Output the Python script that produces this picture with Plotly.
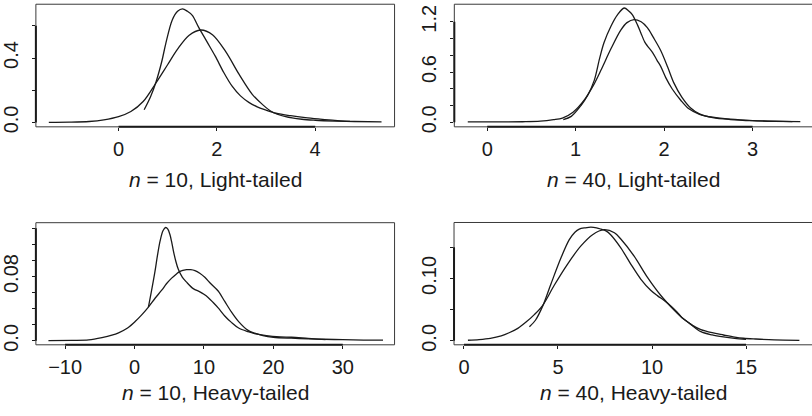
import plotly.graph_objects as go

# ---------------- data ----------------
# Panel 1: n = 10, Light-tailed
p1_smooth_x = [-1.42, -1.0, -0.6, -0.3, 0.0, 0.25, 0.5, 0.76, 1.0, 1.2, 1.43, 1.67, 1.91, 2.18, 2.45, 2.72, 2.92, 3.1, 3.4, 3.73, 4.0, 4.4, 4.8, 5.35]
p1_smooth_y = [0.001, 0.002, 0.006, 0.016, 0.036, 0.068, 0.13, 0.245, 0.36, 0.455, 0.54, 0.574, 0.545, 0.44, 0.30, 0.175, 0.114, 0.07, 0.036, 0.02, 0.014, 0.009, 0.006, 0.004]
p1_peak_x = [0.52, 0.65, 0.76, 0.88, 0.96, 1.09, 1.2, 1.30, 1.40, 1.50, 1.63, 1.80, 1.97, 2.14, 2.31, 2.48, 2.65, 2.82, 2.99, 3.2, 3.5, 3.8, 4.1, 4.4, 4.71]
p1_peak_y = [0.079, 0.16, 0.25, 0.38, 0.49, 0.635, 0.69, 0.705, 0.69, 0.665, 0.59, 0.50, 0.41, 0.31, 0.225, 0.165, 0.125, 0.097, 0.078, 0.058, 0.042, 0.03, 0.021, 0.013, 0.007]

# Panel 2: n = 40, Light-tailed
p2_smooth_x = [-0.22, 0.1, 0.4, 0.6, 0.75, 0.85, 0.97, 1.1, 1.2, 1.285, 1.4, 1.51, 1.58, 1.66, 1.74, 1.81, 1.88, 1.96, 2.04, 2.11, 2.2, 2.3, 2.4, 2.55, 2.75, 3.0, 3.25, 3.54]
p2_smooth_y = [0.004, 0.004, 0.006, 0.012, 0.03, 0.05, 0.12, 0.27, 0.44, 0.62, 0.88, 1.10, 1.19, 1.227, 1.20, 1.13, 1.01, 0.86, 0.66, 0.47, 0.30, 0.17, 0.10, 0.055, 0.032, 0.018, 0.011, 0.007]
p2_peak_x = [0.86, 0.95, 1.06, 1.135, 1.21, 1.27, 1.32, 1.40, 1.47, 1.548, 1.60, 1.64, 1.70, 1.736, 1.78, 1.81, 1.868, 1.92, 1.96, 2.02, 2.09, 2.19, 2.28, 2.4, 2.55, 2.75, 3.0, 3.25, 3.45]
p2_peak_y = [0.03, 0.07, 0.20, 0.32, 0.50, 0.76, 0.95, 1.15, 1.28, 1.365, 1.33, 1.286, 1.16, 1.07, 0.96, 0.913, 0.835, 0.74, 0.67, 0.53, 0.40, 0.26, 0.16, 0.095, 0.06, 0.036, 0.02, 0.012, 0.008]

# Panel 3: n = 10, Heavy-tailed
p3_smooth_x = [-12.4, -9.0, -6.6, -4.69, -3.26, -2.3, -1.0, 0.09, 1.0, 2.0, 2.96, 3.92, 4.6, 5.35, 6.0, 6.55, 7.5, 8.1, 8.7, 9.4, 10.13, 11.0, 12.05, 13.0, 13.96, 15.0, 16.36, 17.3, 18.5, 20.0, 22.6, 25.0, 27.3, 30.0, 33.0, 35.8]
p3_smooth_y = [0.0002, 0.0006, 0.0012, 0.004, 0.007, 0.010, 0.016, 0.024, 0.032, 0.042, 0.053, 0.063, 0.071, 0.078, 0.083, 0.0865, 0.0885, 0.0885, 0.0873, 0.084, 0.079, 0.071, 0.062, 0.049, 0.036, 0.024, 0.013, 0.0095, 0.0065, 0.0045, 0.0033, 0.0025, 0.002, 0.0015, 0.001, 0.0008]
p3_peak_x = [2.0, 2.4, 2.96, 3.3, 3.68, 4.1, 4.49, 4.8, 5.11, 5.35, 5.6, 5.95, 6.31, 6.9, 7.5, 8.46, 9.42, 10.0, 10.6, 11.3, 12.05, 13.0, 13.96, 15.0, 16.36, 17.3, 19.0, 21.0, 22.6, 25.0, 27.5]
p3_peak_y = [0.042, 0.06, 0.087, 0.106, 0.124, 0.137, 0.141, 0.139, 0.132, 0.123, 0.112, 0.099, 0.089, 0.079, 0.073, 0.065, 0.061, 0.058, 0.054, 0.048, 0.041, 0.031, 0.023, 0.016, 0.0114, 0.009, 0.0065, 0.005, 0.0045, 0.003, 0.0015]

# Panel 4: n = 40, Heavy-tailed
p4_smooth_x = [0.21, 0.8, 1.4, 1.98, 2.4, 2.86, 3.3, 3.74, 4.19, 4.8, 5.51, 6.22, 6.84, 7.45, 8.0, 8.34, 9.04, 9.75, 10.46, 11.16, 11.6, 12.2, 12.6, 13.2, 13.8, 14.4, 14.87, 15.5, 16.5, 17.84]
p4_smooth_y = [0.001, 0.002, 0.004, 0.008, 0.013, 0.02, 0.03, 0.042, 0.057, 0.089, 0.123, 0.152, 0.170, 0.178, 0.173, 0.163, 0.136, 0.102, 0.073, 0.0497, 0.037, 0.024, 0.018, 0.013, 0.0094, 0.006, 0.0042, 0.003, 0.0015, 0.0007]
p4_peak_x = [3.48, 3.8, 4.19, 4.63, 5.16, 5.6, 5.9, 6.13, 6.45, 6.75, 7.05, 7.28, 7.55, 7.8, 8.34, 8.87, 9.4, 9.93, 10.3, 10.63, 11.0, 11.34, 11.6, 12.0, 12.6, 13.2, 13.8, 14.4, 15.0]
p4_peak_y = [0.0226, 0.033, 0.056, 0.0915, 0.133, 0.162, 0.174, 0.179, 0.181, 0.182, 0.181, 0.179, 0.176, 0.170, 0.149, 0.123, 0.099, 0.081, 0.072, 0.065, 0.056, 0.046, 0.037, 0.028, 0.0147, 0.0095, 0.0063, 0.004, 0.0025]

# tick values / labels
p1_xticks = [0, 2, 4]
p1_xlabels = ["0", "2", "4"]
p1_yticks = [0.0, 0.2, 0.4, 0.6]
p1_ylabels = ["0.0", "", "0.4", ""]

p2_xticks = [0, 1, 2, 3]
p2_xlabels = ["0", "1", "2", "3"]
p2_yticks = [0.0, 0.2, 0.4, 0.6, 0.8, 1.0, 1.2]
p2_ylabels = ["0.0", "", "", "0.6", "", "", "1.2"]

p3_xticks = [-10, 0, 10, 20, 30]
p3_xlabels = ["\u221210", "0", "10", "20", "30"]
p3_yticks = [0.0, 0.02, 0.04, 0.06, 0.08, 0.10, 0.12, 0.14]
p3_ylabels = ["0.0", "", "", "", "0.08", "", "", ""]

p4_xticks = [0, 5, 10, 15]
p4_xlabels = ["0", "5", "10", "15"]
p4_yticks = [0.0, 0.05, 0.10, 0.15]
p4_ylabels = ["0.0", "", "0.10", ""]

titles = ["<i>n</i> = 10, Light-tailed", "<i>n</i> = 40, Light-tailed",
          "<i>n</i> = 10, Heavy-tailed", "<i>n</i> = 40, Heavy-tailed"]

# ---------------- layout geometry ----------------
W, H = 812, 416
FONT = "Liberation Sans, Arial, Helvetica, sans-serif"
INK = "#1a1a1a"

panels = [
    dict(sx=p1_smooth_x, sy=p1_smooth_y, px=p1_peak_x, py=p1_peak_y,
         xt=p1_xticks, xl=p1_xlabels, yt=p1_yticks, yl=p1_ylabels,
         xr=[-1.683, 5.615], yr=[-0.027, 0.734],
         xd=[33 / W, 393 / W], yd=[1 - 129 / H, 1 - 4.3 / H], boxr=1.0, tc=213),
    dict(sx=p2_smooth_x, sy=p2_smooth_y, px=p2_peak_x, py=p2_peak_y,
         xt=p2_xticks, xl=p2_xlabels, yt=p2_yticks, yl=p2_ylabels,
         xr=[-0.372, 3.672], yr=[-0.055, 1.41],
         xd=[453 / W, 1.0], yd=[1 - 129 / H, 1 - 4.3 / H], boxr=1.02, tc=633),
    dict(sx=p3_smooth_x, sy=p3_smooth_y, px=p3_peak_x, py=p3_peak_y,
         xt=p3_xticks, xl=p3_xlabels, yt=p3_yticks, yl=p3_ylabels,
         xr=[-14.21, 37.46], yr=[-0.0049, 0.147],
         xd=[33 / W, 393 / W], yd=[1 - 350.7 / H, 1 - 226.5 / H], boxr=1.0, tc=213),
    dict(sx=p4_smooth_x, sy=p4_smooth_y, px=p4_peak_x, py=p4_peak_y,
         xt=p4_xticks, xl=p4_xlabels, yt=p4_yticks, yl=p4_ylabels,
         xr=[-0.53, 18.51], yr=[-0.0063, 0.1895],
         xd=[452.7 / W, 1.0], yd=[1 - 350.7 / H, 1 - 226.3 / H], boxr=1.02, tc=633),
]

fig = go.Figure()
shapes = []
annotations = []
layout_axes = {}

for i, p in enumerate(panels, start=1):
    xa = "x" if i == 1 else f"x{i}"
    ya = "y" if i == 1 else f"y{i}"
    for xs, ys in ((p["sx"], p["sy"]), (p["px"], p["py"])):
        fig.add_trace(go.Scatter(
            x=xs, y=ys, mode="lines", xaxis=xa, yaxis=ya,
            line=dict(color=INK, width=1.3, shape="spline", smoothing=0.9),
            hoverinfo="skip", showlegend=False))

    tickfont = dict(family=FONT, size=20, color=INK)
    layout_axes["xaxis" if i == 1 else f"xaxis{i}"] = dict(
        domain=p["xd"], range=p["xr"], anchor=ya,
        tickmode="array", tickvals=p["xt"], ticktext=p["xl"],
        ticks="outside", ticklen=3, tickwidth=1, tickcolor=INK,
        showgrid=False, zeroline=False, showline=False,
        tickfont=tickfont, ticklabelstandoff=1)
    layout_axes["yaxis" if i == 1 else f"yaxis{i}"] = dict(
        domain=p["yd"], range=p["yr"], anchor=xa,
        tickmode="array", tickvals=p["yt"], ticktext=p["yl"],
        ticks="outside", ticklen=3, tickwidth=1, tickcolor=INK,
        showgrid=False, zeroline=False, showline=False,
        tickangle=-90, tickfont=tickfont, ticklabelstandoff=6)

    # frame around the plotting region
    shapes.append(dict(type="rect", xref=f"{xa} domain", yref=f"{ya} domain",
                       x0=0, x1=p["boxr"], y0=0, y1=1,
                       line=dict(color="#3a3a3a", width=1), layer="above"))
    # R-style axis lines spanning first..last tick
    shapes.append(dict(type="line", xref=xa, yref=f"{ya} domain",
                       x0=p["xt"][0], x1=p["xt"][-1], y0=0, y1=0,
                       line=dict(color=INK, width=2), layer="above"))
    shapes.append(dict(type="line", xref=f"{xa} domain", yref=ya,
                       x0=0, x1=0, y0=p["yt"][0], y1=p["yt"][-1],
                       line=dict(color=INK, width=2), layer="above"))

    ty = 1 - 183 / H if i <= 2 else 1 - 399.5 / H
    annotations.append(dict(text=titles[i - 1], xref="paper", yref="paper",
                            x=p["tc"] / W, y=ty, xanchor="center", yanchor="middle",
                            showarrow=False, font=dict(family=FONT, size=21, color=INK)))

fig.update_layout(
    width=W, height=H, margin=dict(l=0, r=0, t=0, b=0),
    paper_bgcolor="white", plot_bgcolor="white",
    shapes=shapes, annotations=annotations, **layout_axes)

fig.write_html("out.html")
